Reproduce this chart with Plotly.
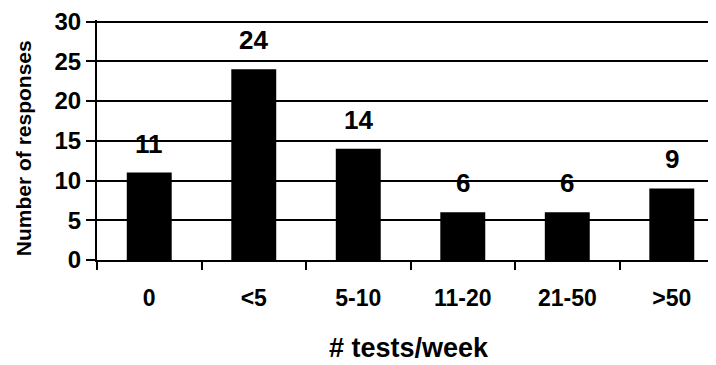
import plotly.graph_objects as go

categories = ["0", "<5", "5-10", "11-20", "21-50", ">50"]
responses = [11, 24, 14, 6, 6, 9]
y_ticks = [0, 5, 10, 15, 20, 25, 30]

FONT = "Liberation Sans, Arial, sans-serif"

fig = go.Figure()
fig.add_trace(go.Bar(
    x=categories, y=responses,
    marker=dict(color="black", line=dict(width=0)),
    width=0.43,
))

for c, v in zip(categories, responses):
    fig.add_annotation(
        x=c, y=v, text=str(v), showarrow=False,
        yanchor="bottom", yshift=12,
        font=dict(family=FONT, size=26, color="black", weight="bold"),
    )

fig.add_annotation(
    xref="paper", yref="paper", x=0.504, y=-0.365,
    xanchor="center", yanchor="middle", showarrow=False,
    text="# tests/week",
    font=dict(family=FONT, size=27, color="black", weight="bold"),
)

fig.add_annotation(
    xref="paper", yref="paper", x=-0.1195, y=0.466,
    xanchor="center", yanchor="middle", showarrow=False,
    textangle=-90,
    text="Number of responses",
    font=dict(family=FONT, size=21, color="black", weight="bold"),
)

fig.update_layout(
    width=708, height=357,
    margin=dict(l=89, r=0, t=10, b=105),
    plot_bgcolor="white", paper_bgcolor="white",
    showlegend=False,
    bargap=0.57,
    xaxis=dict(
        type="category", range=[-0.5, 5.423],
        showline=True, linecolor="black", linewidth=2,
        ticks="outside", tickson="boundaries", ticklen=8, tickwidth=2, tickcolor="black",
        ticklabelstandoff=16,
        showgrid=False,
        tickfont=dict(family=FONT, size=23, color="black", weight="bold"),
    ),
    yaxis=dict(
        range=[0, 30.2], tickvals=y_ticks,
        showline=True, linecolor="black", linewidth=2,
        ticks="outside", ticklen=9, tickwidth=2, tickcolor="black",
        ticklabeloverflow="allow",
        showgrid=True, gridcolor="black", gridwidth=2,
        zeroline=False,
        tickfont=dict(family=FONT, size=24, color="black", weight="bold"),
    ),
)

fig.write_html("out.html")
